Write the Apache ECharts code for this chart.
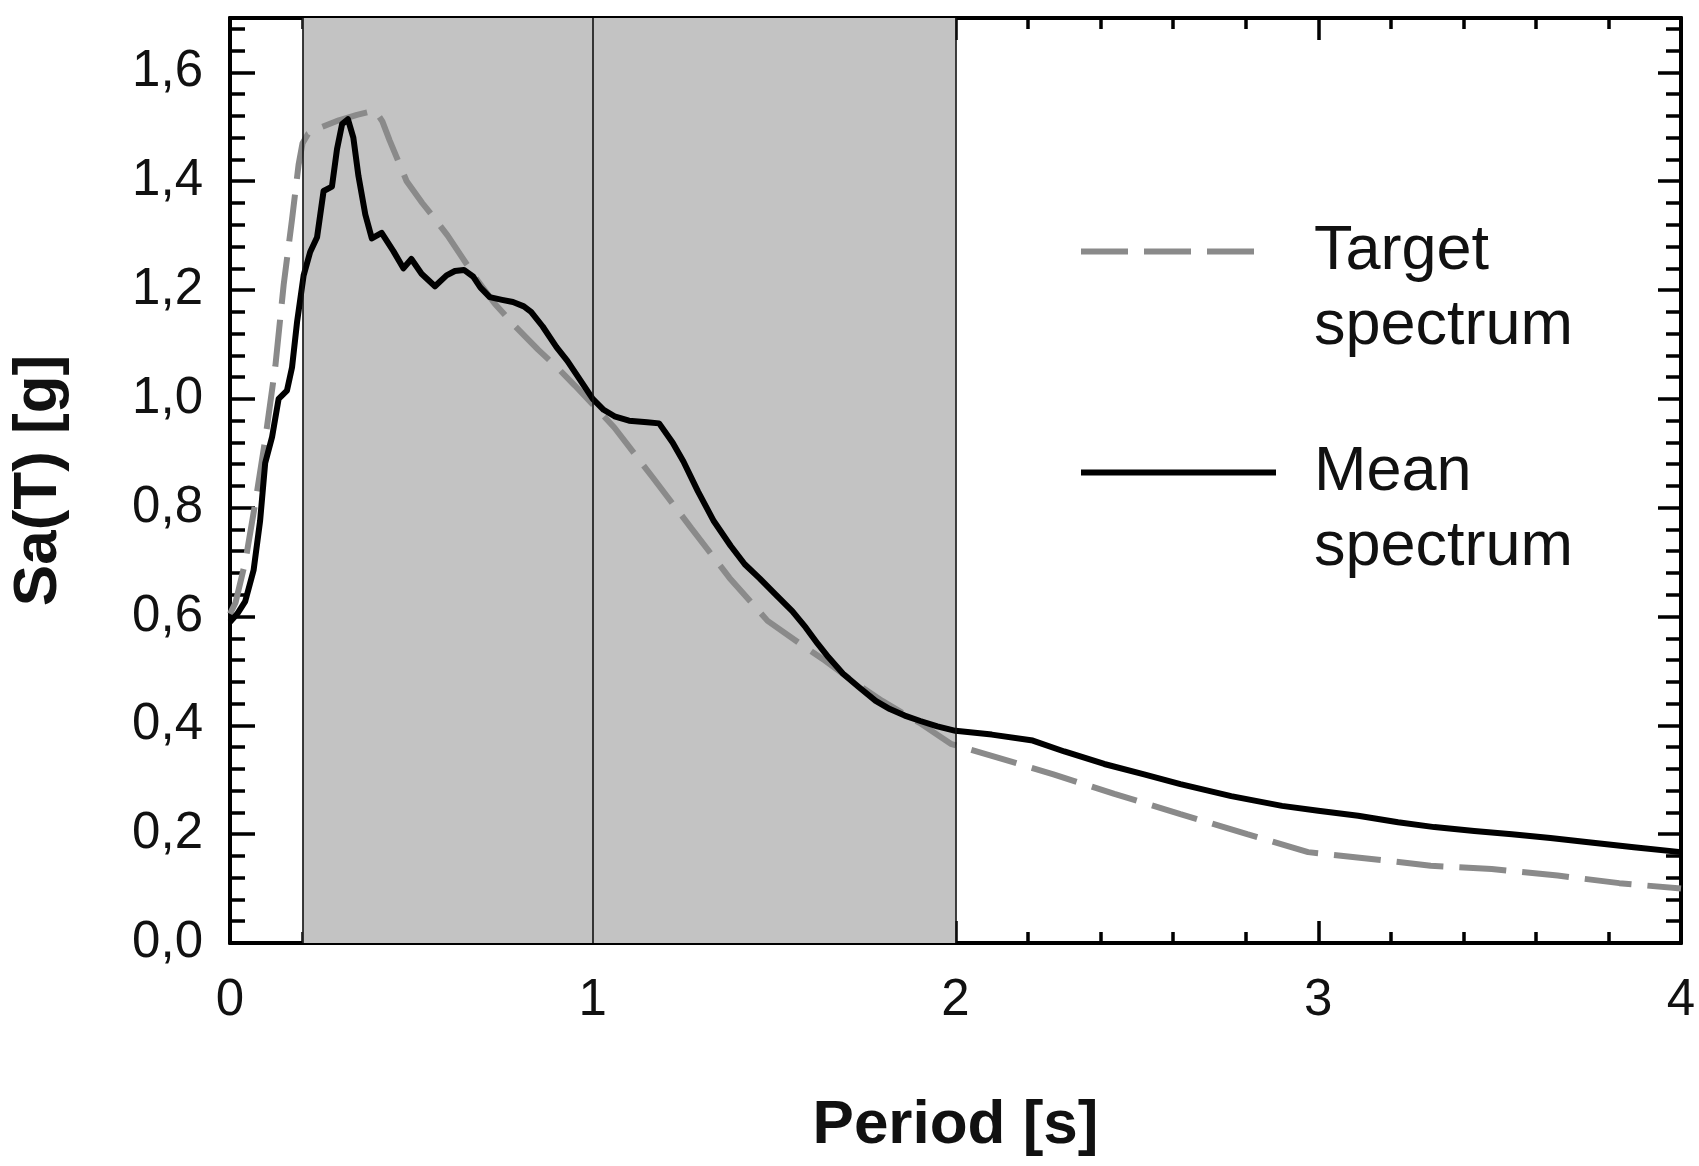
<!DOCTYPE html>
<html>
<head>
<meta charset="utf-8">
<script src="https://cdn.jsdelivr.net/npm/echarts@6/dist/echarts.min.js"></script>
<style>
html,body{margin:0;padding:0;background:#fff;}
#chart{width:1699px;height:1166px;}
</style>
</head>
<body>
<div id="chart"></div>
<script>
// ---- data ----
const targetPeriod = [0.000,0.015,0.042,0.070,0.097,0.125,0.148,0.171,0.189,0.200,0.215,0.254,0.300,0.350,0.400,0.420,0.440,0.487,0.530,0.560,0.600,0.640,0.680,0.730,0.787,0.850,0.903,0.950,1.000,1.060,1.166,1.271,1.377,1.482,1.587,1.640,1.720,1.798,1.900,1.987,2.100,2.270,2.438,2.620,2.804,2.972,3.140,3.310,3.478,3.660,3.830,4.000];
const targetSa     = [0.605,0.625,0.700,0.810,0.925,1.060,1.210,1.330,1.430,1.470,1.487,1.500,1.512,1.522,1.530,1.510,1.475,1.400,1.360,1.335,1.300,1.260,1.220,1.175,1.133,1.090,1.057,1.025,0.990,0.947,0.855,0.763,0.671,0.592,0.543,0.519,0.480,0.445,0.405,0.366,0.344,0.310,0.274,0.237,0.200,0.167,0.155,0.142,0.136,0.124,0.110,0.100];

const meanPeriod = [0.000,0.020,0.042,0.065,0.083,0.097,0.116,0.134,0.157,0.171,0.185,0.203,0.221,0.240,0.258,0.281,0.295,0.309,0.325,0.340,0.354,0.373,0.391,0.418,0.450,0.478,0.500,0.528,0.565,0.597,0.620,0.645,0.670,0.690,0.716,0.750,0.780,0.810,0.830,0.862,0.900,0.930,0.960,1.000,1.030,1.060,1.100,1.150,1.183,1.220,1.250,1.290,1.334,1.380,1.419,1.460,1.503,1.550,1.587,1.620,1.650,1.690,1.734,1.780,1.819,1.860,1.903,1.950,2.000,2.100,2.213,2.300,2.410,2.520,2.620,2.760,2.900,3.000,3.110,3.220,3.320,3.430,3.534,3.640,3.745,3.870,4.000];
const meanSa     = [0.590,0.605,0.628,0.685,0.776,0.882,0.930,1.000,1.015,1.058,1.142,1.227,1.270,1.297,1.382,1.390,1.459,1.505,1.514,1.480,1.410,1.339,1.295,1.305,1.272,1.240,1.257,1.230,1.207,1.227,1.235,1.237,1.225,1.205,1.187,1.182,1.178,1.170,1.160,1.133,1.095,1.070,1.040,1.000,0.980,0.968,0.960,0.957,0.955,0.920,0.885,0.830,0.775,0.730,0.696,0.670,0.641,0.610,0.580,0.550,0.525,0.495,0.470,0.445,0.430,0.418,0.408,0.398,0.390,0.383,0.372,0.352,0.329,0.310,0.292,0.270,0.252,0.243,0.234,0.222,0.213,0.206,0.200,0.193,0.185,0.176,0.167];

const seriesNames = ['Target spectrum', 'Mean spectrum'];
const shadedRange = [0.2, 2.0];           // shaded period band [s]
const markerPeriods = [0.2, 1.0, 2.0];    // thin vertical lines [s]
const xRange = [0, 4];
const yRange = [0, 1.7];

// ---- chart ----
const FONT = 'Liberation Sans, Arial, sans-serif';
const zip = (a, b) => a.map((v, i) => [v, b[i]]);
const chart = echarts.init(document.getElementById('chart'), null, {renderer: 'canvas'});

const baseX = {
  type: 'value', min: xRange[0], max: xRange[1], interval: 1,
  axisLine: {show: true, onZero: false, lineStyle: {color: '#000', width: 4}},
  axisTick: {show: true, inside: true, length: 22, lineStyle: {color: '#000', width: 3.5}},
  minorTick: {show: true, splitNumber: 5, length: 11, lineStyle: {color: '#000', width: 3.5}},
  splitLine: {show: false}, minorSplitLine: {show: false}
};
function yAxisDef(pos, interval, tickLen, withLabels) {
  return {
    type: 'value', position: pos, min: yRange[0], max: yRange[1], interval: interval,
    axisLine: {show: true, onZero: false, lineStyle: {color: '#000', width: 4}},
    axisTick: {show: true, inside: true, length: tickLen, lineStyle: {color: '#000', width: 3.5}},
    splitLine: {show: false},
    axisLabel: withLabels ? {
      show: true, fontSize: 51, fontFamily: FONT, color: '#111', margin: 27,
      formatter: v => (Math.abs(v / 0.2 - Math.round(v / 0.2)) < 1e-6) ? v.toFixed(1).replace('.', ',') : ''
    } : {show: false}
  };
}

const yMajorLeft = yAxisDef('left', 0.2, 25, true);
yMajorLeft.name = 'Sa(T) [g]';
yMajorLeft.nameLocation = 'middle';
yMajorLeft.nameGap = 160;
yMajorLeft.nameTextStyle = {fontSize: 62, fontWeight: 'bold', fontFamily: FONT, color: '#111'};

const legendText = (pad) => ({fontSize: 63, fontFamily: FONT, color: '#111', lineHeight: 75, padding: [0, 0, 0, pad]});
// a leading empty line keeps the first text line level with the legend line sample
const legendLabel = n => '\n' + n.replace(' ', '\n');

const option = {
  animation: false,
  backgroundColor: '#fff',
  grid: {left: 230, right: 18, top: 18, bottom: 223, containLabel: false},
  xAxis: [
    Object.assign({}, baseX, {
      position: 'bottom',
      axisLabel: {show: true, fontSize: 51, fontFamily: FONT, color: '#111', margin: 32},
      name: 'Period [s]', nameLocation: 'middle', nameGap: 152,
      nameTextStyle: {fontSize: 62, fontWeight: 'bold', fontFamily: FONT, color: '#111'}
    }),
    Object.assign({}, baseX, {position: 'top', axisLabel: {show: false}})
  ],
  yAxis: [
    yMajorLeft,
    yAxisDef('left', 0.04, 15, false),
    yAxisDef('right', 0.2, 23, false),
    yAxisDef('right', 0.04, 15, false)
  ],
  legend: [
    {
      data: [seriesNames[0]], orient: 'vertical', left: 1078, top: 139, padding: 0,
      itemWidth: 174, itemHeight: 14, selectedMode: false,
      formatter: legendLabel,
      lineStyle: {width: 6},
      itemStyle: {opacity: 0},
      textStyle: legendText(54)
    },
    {
      data: [seriesNames[1]], orient: 'vertical', left: 1078, top: 360, padding: 0,
      itemWidth: 195, itemHeight: 14, selectedMode: false,
      formatter: legendLabel,
      lineStyle: {width: 6},
      itemStyle: {opacity: 0},
      textStyle: legendText(33)
    }
  ],
  series: [
    {
      name: 'zones', type: 'line', data: [], z: 1, silent: true,
      markArea: {
        silent: true,
        itemStyle: {color: '#c3c3c3', opacity: 1},
        data: [[{xAxis: shadedRange[0]}, {xAxis: shadedRange[1]}]]
      },
      markLine: {
        silent: true, symbol: ['none', 'none'],
        label: {show: false},
        lineStyle: {color: '#111', width: 1.6, type: 'solid'},
        data: markerPeriods.map(p => ({xAxis: p}))
      }
    },
    {
      name: seriesNames[0], type: 'line', z: 3,
      data: zip(targetPeriod, targetSa),
      symbol: 'none', smooth: false,
      lineStyle: {color: '#8a8a8a', width: 6, type: [47, 16], cap: 'butt'},
      itemStyle: {color: '#8a8a8a'}
    },
    {
      name: seriesNames[1], type: 'line', z: 4,
      data: zip(meanPeriod, meanSa),
      symbol: 'none', smooth: false,
      lineStyle: {color: '#000', width: 6, join: 'round'},
      itemStyle: {color: '#000'}
    }
  ]
};
chart.setOption(option);
</script>
</body>
</html>
